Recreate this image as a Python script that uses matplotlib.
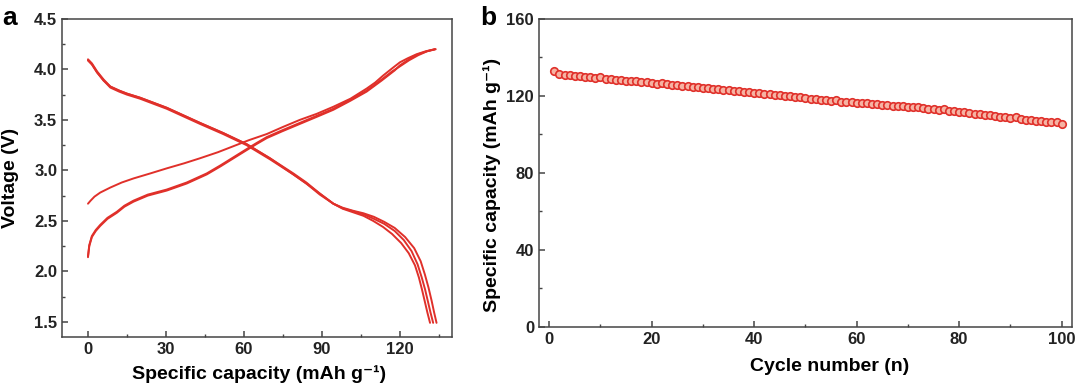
import matplotlib
matplotlib.use("Agg")
import matplotlib.pyplot as plt
from matplotlib.ticker import MultipleLocator

plt.rcParams.update({
    "font.family": ["Liberation Sans", "DejaVu Sans"],
    "font.weight": "bold",
    "axes.labelweight": "bold",
    "axes.linewidth": 1.1,
    "axes.edgecolor": "#454545",
    "xtick.color": "#454545",
    "ytick.color": "#454545",
    "xtick.labelcolor": "#222222",
    "ytick.labelcolor": "#222222",
})

RED = "#e0302a"

# ---- panel a: charge / discharge profiles (capacity mAh/g, voltage V) ----
dis1_cap = [0, 1.5, 3.5, 6, 8.6, 12, 15, 20, 30.3, 43.1, 52, 61, 70, 79, 84, 89.2,
            94.4, 98, 102, 106, 109.7, 113.5, 117, 120.5, 123.4, 125.8, 127.3,
            128.5, 129.6, 130.6, 131.6]
dis1_v = [4.10, 4.06, 3.98, 3.90, 3.83, 3.79, 3.76, 3.72, 3.62, 3.47, 3.37, 3.26,
          3.12, 2.97, 2.88, 2.77, 2.67, 2.62, 2.585, 2.55, 2.50, 2.44, 2.37,
          2.28, 2.18, 2.06, 1.94, 1.82, 1.70, 1.59, 1.49]
dis2_cap = [0, 1.5, 3.5, 6, 8.6, 12, 15, 20, 30.3, 43.1, 52, 61, 70, 79, 84, 89.2,
            94.4, 98, 102, 106, 110, 114, 118, 121.5, 124.5, 126.8, 128.4,
            129.7, 130.8, 131.8, 132.8]
dis2_v = [4.09, 4.05, 3.97, 3.89, 3.83, 3.79, 3.76, 3.72, 3.62, 3.47, 3.37, 3.26,
          3.12, 2.96, 2.87, 2.77, 2.67, 2.625, 2.595, 2.565, 2.52, 2.47, 2.40,
          2.31, 2.20, 2.07, 1.94, 1.82, 1.70, 1.59, 1.49]
dis3_cap = [0, 1.5, 3.5, 6, 8.6, 12, 15, 20, 30.3, 43.1, 52, 61, 70, 79, 84, 89.2,
            94.4, 98, 102, 106, 110, 114, 118, 122, 125.5, 128, 129.6,
            131, 132.2, 133.2, 134.1]
dis3_v = [4.09, 4.05, 3.97, 3.89, 3.82, 3.78, 3.75, 3.71, 3.61, 3.46, 3.36, 3.25,
          3.11, 2.96, 2.87, 2.76, 2.67, 2.63, 2.60, 2.575, 2.54, 2.49, 2.43,
          2.34, 2.23, 2.10, 1.97, 1.84, 1.71, 1.59, 1.49]

chg1_cap = [0, 1, 2.5, 4.7, 8.6, 13, 17.5, 24, 30.3, 37, 43.1, 50, 56, 62, 68.8,
            75, 81.5, 88, 94.4, 101, 107.2, 110.5, 113.6, 117, 120, 123, 126.4,
            130, 133.5]
chg1_v = [2.67, 2.70, 2.74, 2.78, 2.83, 2.88, 2.92, 2.97, 3.02, 3.07, 3.12, 3.18,
          3.24, 3.30, 3.36, 3.43, 3.50, 3.56, 3.63, 3.71, 3.81, 3.87, 3.94,
          4.01, 4.07, 4.11, 4.15, 4.18, 4.20]
chg2_cap = [0, 0.5, 1.5, 3, 4.7, 7.5, 11.1, 14, 17.5, 23, 30.3, 38, 45.7, 51, 56,
            61, 64.8, 68.8, 75, 81.5, 88, 94.4, 101, 107.2, 113, 118, 120,
            123.5, 127, 130.5, 133.5]
chg2_v = [2.14, 2.25, 2.34, 2.40, 2.45, 2.52, 2.58, 2.64, 2.69, 2.75, 2.80, 2.87,
          2.96, 3.04, 3.12, 3.20, 3.26, 3.32, 3.39, 3.46, 3.53, 3.60, 3.69,
          3.78, 3.89, 3.99, 4.04, 4.10, 4.15, 4.18, 4.20]
chg3_cap = [0, 0.5, 1.5, 3, 4.7, 7.5, 11.1, 14, 17.5, 23, 30.3, 38, 45.7, 51, 56,
            61, 64.8, 68.8, 75, 81.5, 88, 94.4, 101, 107.2, 113, 117, 120,
            123.5, 127, 130.5, 133.8]
chg3_v = [2.15, 2.26, 2.35, 2.41, 2.46, 2.53, 2.59, 2.65, 2.70, 2.76, 2.81, 2.88,
          2.97, 3.05, 3.13, 3.21, 3.27, 3.33, 3.40, 3.47, 3.54, 3.61, 3.70,
          3.79, 3.90, 3.98, 4.03, 4.09, 4.14, 4.18, 4.20]

# ---- panel b: cycling capacity ----
cycles = list(range(1, 101))
capacity = [
    133.0, 131.3, 131.0, 130.8, 130.5, 130.6, 130.0, 129.8, 129.5, 129.6,
    129.0, 128.7, 128.5, 128.2, 128.0, 127.8, 127.5, 127.2, 127.0, 126.8,
    126.4, 126.6, 126.0, 125.7, 125.5, 125.3, 125.0, 124.8, 124.5, 124.2,
    124.0, 123.7, 123.8, 123.2, 122.9, 122.7, 122.4, 122.1, 122.2, 121.6,
    121.3, 121.1, 120.8, 120.6, 120.3, 120.0, 119.8, 119.5, 119.2, 118.9,
    118.6, 118.4, 118.1, 117.8, 117.6, 117.9, 117.0, 116.9, 116.7, 116.5,
    116.3, 116.1, 115.8, 115.6, 115.4, 115.2, 115.0, 114.8, 114.6, 114.4,
    114.2, 114.0, 113.7, 113.4, 113.2, 112.9, 113.4, 112.3, 112.0, 111.7,
    111.4, 111.1, 110.8, 110.5, 110.2, 109.9, 109.6, 109.3, 109.0, 108.6,
    108.9, 108.1, 107.7, 107.5, 107.2, 106.9, 106.6, 106.4, 106.6, 105.5,
]

fig = plt.figure(figsize=(10.8, 3.86), dpi=100)
ax1 = fig.add_axes([0.0574, 0.127, 0.361, 0.824])
ax2 = fig.add_axes([0.499, 0.153, 0.4935, 0.798])

for c, v in [(dis1_cap, dis1_v), (dis2_cap, dis2_v), (dis3_cap, dis3_v),
             (chg1_cap, chg1_v), (chg2_cap, chg2_v), (chg3_cap, chg3_v)]:
    ax1.plot(c, v, color=RED, lw=1.4, solid_capstyle="round")

ax1.set_xlim(-10, 140)
ax1.set_ylim(1.35, 4.5)
ax1.xaxis.set_major_locator(MultipleLocator(30))
ax1.xaxis.set_minor_locator(MultipleLocator(15))
ax1.yaxis.set_major_locator(MultipleLocator(0.5))
ax1.yaxis.set_minor_locator(MultipleLocator(0.25))
ax1.set_xlabel("Specific capacity (mAh g\u207b\u00b9)", fontsize=14)
ax1.set_ylabel("Voltage (V)", fontsize=14)
ax1.xaxis.set_label_coords(0.505, -0.09)
ax1.yaxis.set_label_coords(-0.11, 0.5)

ax2.plot(cycles, capacity, "o", ms=5.4, mfc="#f6b3a3", mec=RED, mew=1.2,
         color=RED)
ax2.set_xlim(-2, 102)
ax2.set_ylim(0, 160)
ax2.xaxis.set_major_locator(MultipleLocator(20))
ax2.xaxis.set_minor_locator(MultipleLocator(10))
ax2.yaxis.set_major_locator(MultipleLocator(40))
ax2.yaxis.set_minor_locator(MultipleLocator(20))
ax2.set_xlabel("Cycle number (n)", fontsize=14)
ax2.set_ylabel("Specific capacity (mAh g\u207b\u00b9)", fontsize=14)
ax2.xaxis.set_label_coords(0.546, -0.1)
ax2.yaxis.set_label_coords(-0.072, 0.46)

for ax in (ax1, ax2):
    ax.tick_params(which="both", direction="in", top=False, right=False)
    ax.tick_params(which="major", length=4.5, width=1.1, labelsize=12)
    ax.tick_params(which="minor", length=2.5, width=1.0)
    for lab in ax.get_xticklabels() + ax.get_yticklabels():
        lab.set_fontweight("bold")

fig.text(0.002, 0.985, "a", fontsize=19, fontweight="bold", va="top")
fig.text(0.445, 0.985, "b", fontsize=19, fontweight="bold", va="top")

fig.savefig("out.png", dpi=100)
